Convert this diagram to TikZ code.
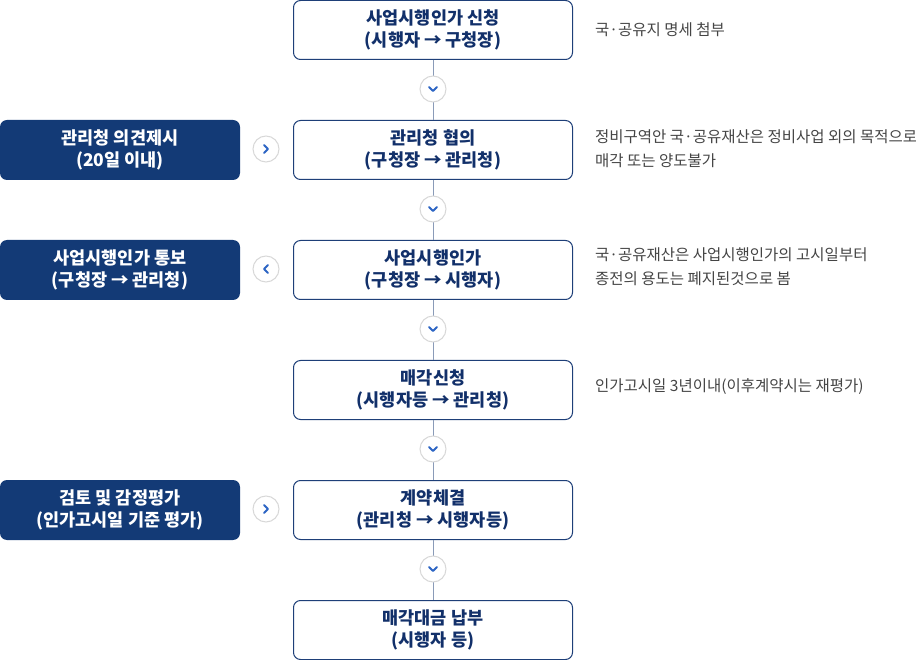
\documentclass[tikz,border=0pt]{standalone}
\usepackage{fontspec}
\usetikzlibrary{calc}
\setmainfont{Noto Sans CJK KR}
\newfontfamily\kr{Noto Sans CJK KR}
\definecolor{navy}{HTML}{133A76}
\definecolor{boxline}{HTML}{1E3F78}
\definecolor{boxtext}{HTML}{12306A}
\definecolor{conn}{HTML}{8A9BB8}
\definecolor{circ}{HTML}{D8D8D8}
\definecolor{chev}{HTML}{2C64C4}
\definecolor{note}{HTML}{444444}
\begin{document}
\begin{tikzpicture}[x=1pt,y=-1pt,
  mainbox/.style={draw=boxline,line width=1pt,fill=white,rounded corners=7pt,minimum width=279pt,minimum height=59pt,inner sep=0pt,align=center,text=boxtext,font=\kr\bfseries\fontsize{17.5}{22}\selectfont},
  sidebox/.style={fill=navy,rounded corners=7pt,minimum width=240pt,minimum height=60pt,inner sep=0pt,align=center,text=white,font=\kr\bfseries\fontsize{17.5}{22}\selectfont},
  notetext/.style={anchor=west,inner sep=0pt,align=left,text=note,font=\kr\fontsize{15.5}{24}\selectfont},
  btn/.style={circle,draw=circ,line width=1pt,fill=white,minimum size=26pt,inner sep=0pt},
  conline/.style={draw=conn,line width=1pt},
  chevline/.style={draw=chev,line width=2pt,line cap=round,line join=round}
]
\useasboundingbox (0,0) rectangle (916,660);
% main boxes
\node[mainbox] (m1) at (433,30) {사업시행인가 신청\\(시행자 → 구청장)};
\node[mainbox] (m2) at (433,150) {관리청 협의\\(구청장 → 관리청)};
\node[mainbox] (m3) at (433,270) {사업시행인가\\(구청장 → 시행자)};
\node[mainbox] (m4) at (433,390) {매각신청\\(시행자등 → 관리청)};
\node[mainbox] (m5) at (433,510) {계약체결\\(관리청 → 시행자등)};
\node[mainbox] (m6) at (433,630) {매각대금 납부\\(시행자 등)};
% connectors
\draw[conline] (m1.south) -- (m2.north);
\draw[conline] (m2.south) -- (m3.north);
\draw[conline] (m3.south) -- (m4.north);
\draw[conline] (m4.south) -- (m5.north);
\draw[conline] (m5.south) -- (m6.north);
% down buttons
\foreach \n/\y in {d1/89,d2/209,d3/329,d4/449,d5/569}{
  \node[btn] (\n) at (433,\y) {};
  \draw[chevline] ($(\n.center)+(-4,-2)$) -- ($(\n.center)+(0,2)$) -- ($(\n.center)+(4,-2)$);
}
% side boxes
\node[sidebox] (s1) at (120,150) {관리청 의견제시\\(20일 이내)};
\node[sidebox] (s2) at (120,270) {사업시행인가 통보\\(구청장 → 관리청)};
\node[sidebox] (s3) at (120,510) {검토 및 감정평가\\(인가고시일 기준 평가)};
% side buttons
\node[btn] (r1) at (266,149) {};
\draw[chevline] ($(r1.center)+(-2,-4)$) -- ($(r1.center)+(2,0)$) -- ($(r1.center)+(-2,4)$);
\node[btn] (r2) at (266,269) {};
\draw[chevline] ($(r2.center)+(2,-4)$) -- ($(r2.center)+(-2,0)$) -- ($(r2.center)+(2,4)$);
\node[btn] (r3) at (266,509) {};
\draw[chevline] ($(r3.center)+(-2,-4)$) -- ($(r3.center)+(2,0)$) -- ($(r3.center)+(-2,4)$);
% notes
\node[notetext] (n1) at (595,30) {국·공유지 명세 첨부};
\node[notetext] (n2) at (595,149) {정비구역안 국·공유재산은 정비사업 외의 목적으로\\매각 또는 양도불가};
\node[notetext] (n3) at (595,267) {국·공유재산은 사업시행인가의 고시일부터\\종전의 용도는 폐지된것으로 봄};
\node[notetext] (n4) at (595,387) {인가고시일 3년이내(이후계약시는 재평가)};
\end{tikzpicture}
\end{document}
